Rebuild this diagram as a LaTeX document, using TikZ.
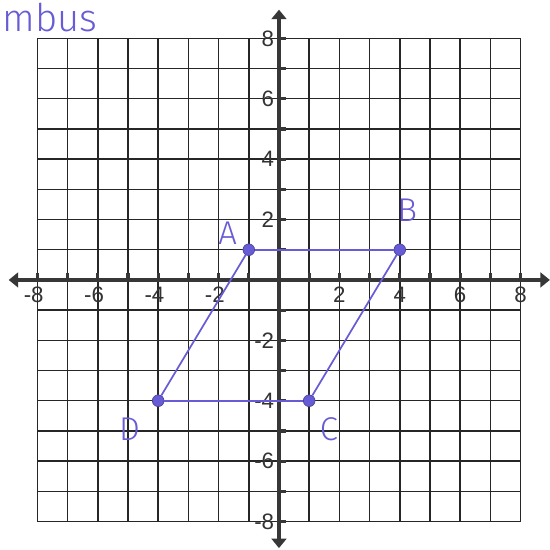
\documentclass[tikz,border=0pt]{standalone}
\usepackage{fontspec}
\setmainfont{Liberation Sans}
\newfontfamily\handfont{Fira Sans Light}
\usetikzlibrary{arrows.meta}
\definecolor{ink}{RGB}{104,92,214}
\definecolor{axisgray}{RGB}{55,55,55}
\tikzset{
  gridline/.style={line width=1.4pt, black!85},
  axisline/.style={line width=4.5pt, axisgray, {Triangle[length=9pt,width=14pt]}-{Triangle[length=9pt,width=14pt]}},
  tickmark/.style={line width=3pt, axisgray},
  numlabel/.style={font=\fontsize{21}{22}\selectfont, text=black!80, inner sep=1pt},
  pt/.style={circle, fill=ink, draw=ink!70!black, line width=0.6pt, minimum size=11pt, inner sep=0pt},
  seg/.style={line width=1.6pt, ink},
  hand/.style={font=\handfont\fontsize{31}{33}\selectfont, text=ink}
}
\begin{document}
\begin{tikzpicture}
\useasboundingbox (-9.238,-8.94) rectangle (8.974,9.27);
\fill[white] (-9.238,-8.94) rectangle (8.974,9.27);
% grid
\foreach \i in {-8,...,8} {
  \draw[gridline] (\i,-8) -- (\i,8);
  \draw[gridline] (-8,\i) -- (8,\i);
}
% ticks
\foreach \i in {-8,...,8} {
  \draw[tickmark] (\i,0) -- (\i,0.22);
  \draw[tickmark] (0,\i) -- (0.22,\i);
}
% axes
\coordinate (xl) at (-8.95,0);
\coordinate (xr) at (8.97,0);
\coordinate (yb) at (0,-8.88);
\coordinate (yt) at (0,8.95);
\draw[axisline] (xl) -- (xr);
\draw[axisline] (yb) -- (yt);
% axis labels
\foreach \v in {2,4,6,8} {
  \node[numlabel, anchor=north] (xp\v) at (\v,-0.2) {\v};
  \node[numlabel, anchor=north] (xm\v) at (-\v,-0.2) {\llap{-}\v};
  \node[numlabel, anchor=east] (yp\v) at (-0.12,\v) {\v};
  \node[numlabel, anchor=east] (ym\v) at (-0.12,-\v) {-\v};
}
% points
\node[pt] (A) at (-1,1) {};
\node[pt] (B) at (4,1) {};
\node[pt] (C) at (1,-4) {};
\node[pt] (D) at (-4,-4) {};
\draw[seg] (A) -- (B);
\draw[seg] (B) -- (C);
\draw[seg] (C) -- (D);
\draw[seg] (D) -- (A);
% handwritten labels
\node[hand] (la) at (-1.7,1.55) {A};
\node[hand] (lb) at (4.25,2.3) {B};
\node[hand] (lc) at (1.65,-4.95) {C};
\node[hand] (ld) at (-4.95,-4.95) {D};
\node[hand, font=\handfont\fontsize{36}{38}\selectfont, anchor=north west, inner sep=1pt] (title) at (-9.2,9.22) {mbus};
\end{tikzpicture}
\end{document}
